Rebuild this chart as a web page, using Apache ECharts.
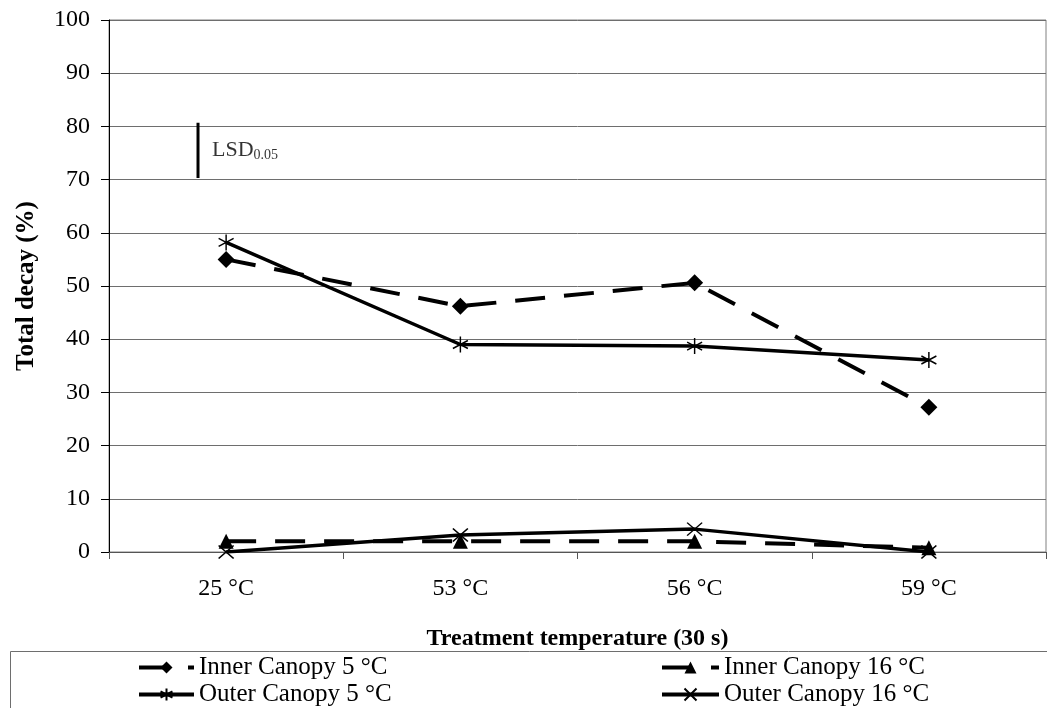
<!DOCTYPE html>
<html>
<head>
<meta charset="utf-8">
<script src="https://cdn.jsdelivr.net/npm/echarts@6/dist/echarts.min.js"></script>
<style>
  html, body { margin: 0; padding: 0; background: #fff; }
  #chart { width: 1047px; height: 708px; }
</style>
</head>
<body>
<div id="chart"></div>
<script>
// ---- data ----
const categories = ['25 °C', '53 °C', '56 °C', '59 °C'];
const innerCanopy5 = [55.0, 46.2, 50.6, 27.2];
const innerCanopy16 = [2.0, 2.0, 2.0, 0.8];
const outerCanopy5 = [58.2, 39.0, 38.7, 36.1];
const outerCanopy16 = [0.0, 3.2, 4.3, 0.0];
const seriesNames = ['Inner Canopy 5 °C', 'Inner Canopy 16 °C', 'Outer Canopy 5 °C', 'Outer Canopy 16 °C'];
const yTicks = { min: 0, max: 100, interval: 10 };
// LSD bar (position along category axis as fractional index, and its range)
const lsdX = -0.12;
const lsdBottom = 70.3;
const lsdTop = 80.7;

const FONT = "'Liberation Serif', 'Times New Roman', serif";
const ASTERISK = 'path://M10,0 L10,20 M1.34,5 L18.66,15 M1.34,15 L18.66,5';
const CROSS = 'path://M0,0 L20,20 M0,20 L20,0';

const chart = echarts.init(document.getElementById('chart'), null, { renderer: 'canvas' });

const legendText = { fontFamily: FONT, fontSize: 25, color: '#000', lineHeight: 25 };

const option = {
  backgroundColor: '#fff',
  animation: false,
  textStyle: { fontFamily: FONT },
  grid: {
    left: 109, right: 1, top: 20, bottom: 156,
    containLabel: false,
    outerBoundsMode: 'none',
    show: true, borderColor: '#808080', borderWidth: 1
  },
  legend: [
    {
      data: [seriesNames[0], seriesNames[2]],
      orient: 'vertical', left: 137, top: 655, width: 400, height: 100,
      itemWidth: 55, itemHeight: 15, itemGap: 2,
      lineStyle: { width: 4 },
      textStyle: legendText, padding: 0
    },
    {
      data: [seriesNames[1], seriesNames[3]],
      orient: 'vertical', left: 660, top: 655, width: 380, height: 100,
      itemWidth: 57, itemHeight: 15, itemGap: 2,
      lineStyle: { width: 4 },
      textStyle: legendText, padding: 0
    }
  ],
  graphic: [
    {
      type: 'rect', left: 8, top: 649, silent: true, z: -1,
      shape: { width: 1045, height: 70 },
      style: { fill: 'none', stroke: '#6e6e6e', lineWidth: 1 }
    }
  ],
  xAxis: [
    {
      type: 'category',
      data: categories,
      boundaryGap: true,
      axisLine: { show: true, onZero: false, lineStyle: { color: '#555', width: 1 } },
      axisTick: { show: true, length: 7, lineStyle: { color: '#555' } },
      axisLabel: { fontFamily: FONT, fontSize: 24, color: '#000', margin: 25 },
      splitLine: { show: false },
      name: 'Treatment temperature (30 s)',
      nameLocation: 'middle',
      nameGap: 75,
      nameTextStyle: { fontFamily: FONT, fontSize: 24, fontWeight: 'bold', color: '#000' }
    },
    {
      type: 'value', min: -0.5, max: 3.5, show: false, position: 'bottom',
      axisLine: { onZero: false }
    }
  ],
  yAxis: {
    type: 'value',
    min: yTicks.min, max: yTicks.max, interval: yTicks.interval,
    axisLine: { show: true, onZero: false, lineStyle: { color: '#000', width: 1 } },
    axisTick: { show: true, length: 8, lineStyle: { color: '#000' } },
    axisLabel: { fontFamily: FONT, fontSize: 24, color: '#000', margin: 19 },
    splitLine: { show: true, lineStyle: { color: '#6e6e6e', width: 1 } },
    name: 'Total decay (%)',
    nameLocation: 'middle',
    nameGap: 70,
    nameTextStyle: { fontFamily: FONT, fontSize: 25, fontWeight: 'bold', color: '#000' }
  },
  series: [
    {
      name: seriesNames[0], type: 'line', data: innerCanopy5,
      symbol: 'diamond', symbolSize: 17,
      itemStyle: { color: '#000' },
      lineStyle: { color: '#000', width: 4, type: [30, 19] },
      z: 3
    },
    {
      name: seriesNames[1], type: 'line', data: innerCanopy16,
      symbol: 'triangle', symbolSize: 15,
      itemStyle: { color: '#000' },
      lineStyle: { color: '#000', width: 4, type: [30, 19] },
      z: 3
    },
    {
      name: seriesNames[2], type: 'line', data: outerCanopy5,
      symbol: ASTERISK, symbolSize: [15, 16],
      itemStyle: { color: '#000', borderColor: '#000', borderWidth: 1.5 },
      lineStyle: { color: '#000', width: 3.5 },
      z: 4
    },
    {
      name: seriesNames[3], type: 'line', data: outerCanopy16,
      symbol: CROSS, symbolSize: [15, 13],
      itemStyle: { color: '#000', borderColor: '#000', borderWidth: 1.5 },
      lineStyle: { color: '#000', width: 3.5 },
      z: 4
    },
    {
      name: 'LSD', type: 'line', xAxisIndex: 1,
      data: [[lsdX, lsdBottom], [lsdX, lsdTop]],
      symbol: 'none', silent: true,
      lineStyle: { color: '#000', width: 3 }
    },
    {
      name: 'LSD label', type: 'scatter', xAxisIndex: 1,
      data: [[lsdX, (lsdBottom + lsdTop) / 2]],
      symbolSize: 0, silent: true,
      label: {
        show: true, position: 'right', distance: 14,
        formatter: '{a|LSD}{b|0.05}',
        rich: {
          a: { fontFamily: FONT, fontSize: 22, color: '#000' },
          b: { fontFamily: FONT, fontSize: 14, color: '#000', padding: [10, 0, 0, 0] }
        }
      }
    }
  ]
};

chart.setOption(option);
</script>
</body>
</html>
